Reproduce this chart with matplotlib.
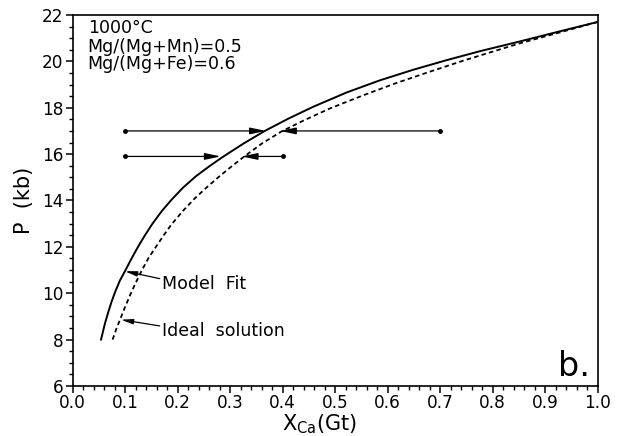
import matplotlib
matplotlib.use('Agg')
import matplotlib.pyplot as plt
import numpy as np
from matplotlib.ticker import MultipleLocator

# Model fit curve (P in kb vs X_Ca in garnet)
x_fit = [0.054, 0.0615, 0.068, 0.0743, 0.082, 0.09, 0.0996, 0.108, 0.117, 0.127,
         0.1377, 0.152, 0.17, 0.189, 0.21, 0.235, 0.26, 0.284, 0.325, 0.366,
         0.41, 0.458, 0.522, 0.585, 0.649, 0.712, 0.776, 0.852, 0.92, 1.0]
p_fit = [8.0, 8.7, 9.2, 9.65, 10.12, 10.55, 10.95, 11.32, 11.7, 12.1,
         12.5, 13.0, 13.55, 14.05, 14.55, 15.05, 15.47, 15.85, 16.45, 17.0,
         17.52, 18.04, 18.66, 19.18, 19.64, 20.05, 20.44, 20.86, 21.25, 21.7]

# Ideal solution curve
x_ideal = [0.076, 0.083, 0.09, 0.1, 0.11, 0.12, 0.132, 0.144, 0.16, 0.175,
           0.1886, 0.21, 0.233, 0.257, 0.28, 0.30, 0.324, 0.36, 0.398, 0.44,
           0.49, 0.554, 0.617, 0.681, 0.744, 0.80, 0.852, 0.92, 1.0]
p_ideal = [8.0, 8.45, 8.85, 9.42, 9.95, 10.45, 11.0, 11.5, 12.05, 12.55,
           12.98, 13.55, 14.1, 14.6, 15.05, 15.42, 15.85, 16.45, 16.98, 17.45,
           17.97, 18.54, 19.07, 19.56, 20.03, 20.42, 20.78, 21.2, 21.7]

# Reversal experiments: pressure, starting X_Ca and final X_Ca
p_exp = [17.0, 15.9]
x_start_lo = [0.10, 0.10]
x_end_lo = [0.368, 0.282]
x_start_hi = [0.70, 0.40]
x_end_hi = [0.395, 0.322]

fig = plt.figure(figsize=(6.18, 4.36), dpi=100)
ax = fig.add_axes([0.1176, 0.1147, 0.8494, 0.8509])

ax.plot(x_fit, p_fit, color='black', lw=1.4)
ax.plot(x_ideal, p_ideal, color='black', lw=1.3, linestyle=(0, (2.5, 1.8)))

arrow_style = '-|>,head_length=0.95,head_width=0.2'
for p, xs, xe in zip(p_exp, x_start_lo, x_end_lo):
    ax.annotate('', xy=(xe, p), xytext=(xs, p),
                arrowprops=dict(arrowstyle=arrow_style, color='black', lw=0.9,
                                shrinkA=0, shrinkB=0, mutation_scale=10))
for p, xs, xe in zip(p_exp, x_start_hi, x_end_hi):
    ax.annotate('', xy=(xe, p), xytext=(xs, p),
                arrowprops=dict(arrowstyle=arrow_style, color='black', lw=0.9,
                                shrinkA=0, shrinkB=0, mutation_scale=10))
ax.plot(x_start_lo, p_exp, 'o', color='black', ms=2.5)
ax.plot(x_start_hi, p_exp, 'o', color='black', ms=2.5)

# curve labels
lab_style = '-|>,head_length=0.7,head_width=0.15'
ax.annotate('Model  Fit', xy=(0.0996, 10.95), xytext=(0.171, 10.18),
            fontsize=12.5, va='baseline', ha='left',
            arrowprops=dict(arrowstyle=lab_style, color='black', lw=0.9,
                            shrinkA=0, shrinkB=0, mutation_scale=10,
                            relpos=(-0.03, 0.8)))
ax.annotate('Ideal  solution', xy=(0.092, 8.86), xytext=(0.171, 8.14),
            fontsize=12.5, va='baseline', ha='left',
            arrowprops=dict(arrowstyle=lab_style, color='black', lw=0.9,
                            shrinkA=0, shrinkB=0, mutation_scale=10,
                            relpos=(-0.02, 0.8)))

ax.text(0.0286, 0.9515, '1000°C', transform=ax.transAxes, fontsize=12.5, va='baseline')
ax.text(0.0286, 0.901, 'Mg/(Mg+Mn)=0.5', transform=ax.transAxes, fontsize=12.5, va='baseline')
ax.text(0.0286, 0.8544, 'Mg/(Mg+Fe)=0.6', transform=ax.transAxes, fontsize=12.5, va='baseline')
ax.text(0.924, 0.027, 'b.', transform=ax.transAxes, fontsize=24, va='baseline')

ax.set_xlim(0.0, 1.0)
ax.set_ylim(6, 22)
ax.xaxis.set_major_locator(MultipleLocator(0.1))
ax.xaxis.set_minor_locator(MultipleLocator(0.02))
ax.yaxis.set_major_locator(MultipleLocator(2))
ax.yaxis.set_minor_locator(MultipleLocator(0.5))
ax.xaxis.set_major_formatter(plt.FormatStrFormatter('%.1f'))
ax.tick_params(which='major', direction='out', length=5, width=1.1,
               labelsize=12.2, pad=1.5, top=False, right=False)
ax.tick_params(which='minor', direction='out', length=3, width=1.0,
               top=False, right=False)
ax.tick_params(axis='x', which='major', pad=0.5)
for s in ax.spines.values():
    s.set_linewidth(1.2)

ax.set_xlabel(r'X$_{\rm Ca}$(Gt)', fontsize=15)
ax.xaxis.set_label_coords(0.47, -0.072)
ax.set_ylabel('P  (kb)', fontsize=15)
ax.yaxis.set_label_coords(-0.074, 0.5)

fig.savefig('out.png', dpi=100)
